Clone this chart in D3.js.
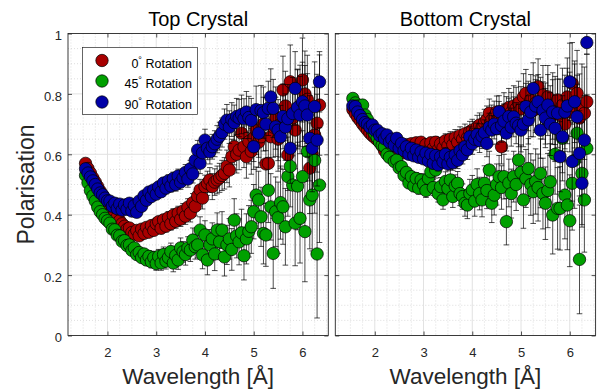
<!DOCTYPE html>
<html>
<head>
<meta charset="utf-8">
<script src="https://cdn.jsdelivr.net/npm/d3@7"></script>
<style>
  body { margin: 0; background: #fff; }
  svg { display: block; }
  text { font-family: "Liberation Sans", Arial, Helvetica, sans-serif; }
</style>
</head>
<body>
<svg id="chart" width="597" height="391"></svg>
<script>
// Wavelength bins [Å], shared by every series
const wavelength = [
  1.55,1.60,1.65,1.70,1.75,1.80,1.85,1.90,1.95,2.00,
  2.05,2.10,2.15,2.20,2.25,2.30,2.35,2.40,2.45,2.50,
  2.55,2.60,2.65,2.70,2.75,2.80,2.85,2.90,2.95,3.00,
  3.05,3.10,3.15,3.20,3.25,3.30,3.35,3.40,3.45,3.50,
  3.55,3.60,3.65,3.70,3.75,3.80,3.85,3.90,3.95,4.00,
  4.05,4.10,4.15,4.20,4.25,4.30,4.35,4.40,4.45,4.50,
  4.55,4.60,4.65,4.70,4.75,4.80,4.85,4.90,4.95,5.00,
  5.05,5.10,5.15,5.20,5.25,5.30,5.35,5.40,5.45,5.50,
  5.55,5.60,5.65,5.70,5.75,5.80,5.85,5.90,5.95,6.00,
  6.05,6.10,6.15,6.20,6.25,6.30,6.35];

// Top crystal polarisation
const topRot0 = [
  0.570,0.553,0.538,0.522,0.508,0.493,0.478,0.465,0.452,0.440,
  0.428,0.416,0.404,0.392,0.380,0.370,0.362,0.352,0.356,0.341,
  0.335,0.348,0.330,0.352,0.338,0.358,0.342,0.364,0.348,0.370,
  0.377,0.355,0.383,0.362,0.390,0.370,0.398,0.378,0.405,0.385,
  0.412,0.395,0.425,0.405,0.440,0.428,0.462,0.482,0.455,0.493,
  0.504,0.515,0.493,0.508,0.515,0.522,0.530,0.537,0.560,0.548,
  0.592,0.625,0.600,0.614,0.670,0.625,0.592,0.642,0.610,0.655,
  0.680,0.640,0.658,0.700,0.568,0.570,0.658,0.690,0.720,0.650,
  0.700,0.813,0.760,0.598,0.840,0.720,0.680,0.750,0.760,0.846,
  0.800,0.782,0.554,0.603,0.664,0.703,0.763];
const topRot0Err = [
  0.004,0.004,0.004,0.005,0.005,0.005,0.005,0.006,0.006,0.006,
  0.007,0.007,0.008,0.008,0.008,0.009,0.009,0.010,0.010,0.011,
  0.011,0.012,0.012,0.013,0.013,0.014,0.014,0.015,0.016,0.016,
  0.017,0.018,0.018,0.019,0.020,0.021,0.022,0.023,0.023,0.024,
  0.025,0.027,0.028,0.029,0.030,0.032,0.033,0.035,0.036,0.038,
  0.040,0.041,0.043,0.044,0.046,0.048,0.050,0.052,0.054,0.056,
  0.058,0.060,0.062,0.065,0.067,0.069,0.071,0.074,0.076,0.079,
  0.081,0.084,0.086,0.089,0.092,0.095,0.097,0.100,0.103,0.106,
  0.109,0.112,0.115,0.118,0.122,0.125,0.128,0.132,0.135,0.139,
  0.142,0.146,0.150,0.154,0.158,0.162,0.166];

const topRot45 = [
  0.530,0.505,0.480,0.462,0.445,0.425,0.410,0.400,0.388,0.380,
  0.372,0.352,0.350,0.332,0.330,0.312,0.314,0.298,0.300,0.282,
  0.290,0.268,0.275,0.258,0.270,0.250,0.262,0.244,0.258,0.238,
  0.262,0.240,0.268,0.246,0.258,0.278,0.240,0.265,0.250,0.290,
  0.277,0.268,0.290,0.283,0.316,0.294,0.300,0.349,0.267,0.333,
  0.250,0.300,0.320,0.270,0.349,0.310,0.349,0.260,0.300,0.320,
  0.285,0.382,0.330,0.310,0.340,0.264,0.320,0.345,0.360,0.410,
  0.465,0.449,0.393,0.338,0.333,0.481,0.426,0.272,0.410,0.390,
  0.440,0.426,0.360,0.526,0.560,0.498,0.372,0.495,0.388,0.526,
  0.344,0.609,0.449,0.465,0.580,0.270,0.498];
const topRot45Err = [
  0.004,0.004,0.005,0.005,0.005,0.006,0.006,0.006,0.007,0.007,
  0.008,0.008,0.009,0.009,0.010,0.010,0.011,0.012,0.012,0.013,
  0.014,0.014,0.015,0.016,0.017,0.018,0.019,0.020,0.021,0.022,
  0.023,0.024,0.025,0.026,0.027,0.028,0.029,0.030,0.031,0.033,
  0.034,0.035,0.037,0.038,0.040,0.041,0.043,0.044,0.046,0.047,
  0.049,0.051,0.053,0.055,0.057,0.059,0.061,0.063,0.065,0.067,
  0.069,0.071,0.073,0.076,0.078,0.080,0.083,0.085,0.088,0.090,
  0.093,0.095,0.098,0.101,0.104,0.107,0.110,0.116,0.115,0.118,
  0.121,0.124,0.127,0.131,0.134,0.137,0.141,0.145,0.148,0.152,
  0.166,0.158,0.162,0.185,0.175,0.212,0.190];

const topRot90 = [
  0.552,0.538,0.525,0.512,0.500,0.485,0.472,0.466,0.455,0.446,
  0.445,0.428,0.438,0.420,0.435,0.415,0.432,0.418,0.438,0.412,
  0.430,0.408,0.445,0.428,0.462,0.448,0.475,0.460,0.482,0.468,
  0.492,0.476,0.505,0.488,0.512,0.495,0.520,0.500,0.528,0.508,
  0.522,0.540,0.518,0.552,0.535,0.580,0.614,0.570,0.605,0.647,
  0.620,0.608,0.625,0.635,0.650,0.660,0.672,0.700,0.713,0.690,
  0.715,0.705,0.725,0.720,0.732,0.718,0.740,0.722,0.712,0.625,
  0.748,0.670,0.745,0.738,0.700,0.752,0.790,0.752,0.691,0.680,
  0.658,0.725,0.690,0.718,0.620,0.735,0.818,0.755,0.730,0.774,
  0.760,0.730,0.653,0.620,0.758,0.647,0.840];
const topRot90Err = [
  0.004,0.004,0.004,0.004,0.005,0.005,0.005,0.005,0.006,0.006,
  0.006,0.007,0.007,0.008,0.008,0.008,0.009,0.009,0.010,0.010,
  0.011,0.011,0.012,0.012,0.013,0.013,0.014,0.015,0.015,0.016,
  0.017,0.017,0.018,0.019,0.020,0.020,0.021,0.022,0.023,0.024,
  0.025,0.026,0.027,0.028,0.030,0.031,0.032,0.034,0.035,0.036,
  0.038,0.040,0.041,0.043,0.045,0.046,0.048,0.050,0.052,0.054,
  0.056,0.058,0.060,0.062,0.064,0.066,0.068,0.070,0.073,0.075,
  0.078,0.080,0.083,0.085,0.088,0.090,0.093,0.096,0.098,0.101,
  0.104,0.107,0.110,0.113,0.116,0.119,0.122,0.125,0.128,0.131,
  0.134,0.137,0.141,0.144,0.148,0.152,0.100];

// Bottom crystal polarisation
const bottomRot0 = [
  0.748,0.735,0.722,0.712,0.700,0.690,0.680,0.670,0.662,0.655,
  0.648,0.640,0.628,0.612,0.618,0.602,0.615,0.600,0.622,0.608,
  0.625,0.605,0.632,0.612,0.635,0.615,0.638,0.618,0.640,0.615,
  0.632,0.612,0.638,0.620,0.640,0.615,0.635,0.622,0.645,0.628,
  0.650,0.632,0.655,0.640,0.662,0.650,0.668,0.655,0.675,0.680,
  0.672,0.690,0.697,0.688,0.705,0.715,0.736,0.714,0.725,0.740,
  0.720,0.625,0.745,0.730,0.755,0.740,0.760,0.752,0.770,0.750,
  0.790,0.802,0.760,0.780,0.745,0.770,0.824,0.760,0.796,0.735,
  0.790,0.720,0.760,0.745,0.780,0.730,0.763,0.700,0.790,0.740,
  0.835,0.760,0.802,0.720,0.750,0.736,0.774];
const bottomRot0Err = [
  0.004,0.004,0.004,0.005,0.005,0.005,0.005,0.006,0.006,0.006,
  0.007,0.007,0.007,0.008,0.008,0.008,0.009,0.009,0.010,0.010,
  0.011,0.011,0.012,0.012,0.013,0.013,0.014,0.014,0.015,0.016,
  0.016,0.017,0.018,0.019,0.019,0.020,0.021,0.022,0.023,0.024,
  0.025,0.026,0.027,0.028,0.029,0.030,0.032,0.033,0.034,0.036,
  0.037,0.039,0.040,0.042,0.044,0.045,0.047,0.049,0.051,0.053,
  0.055,0.057,0.059,0.061,0.063,0.065,0.067,0.070,0.072,0.074,
  0.077,0.079,0.082,0.084,0.087,0.090,0.092,0.095,0.098,0.101,
  0.104,0.107,0.110,0.113,0.116,0.119,0.122,0.125,0.129,0.132,
  0.135,0.139,0.142,0.146,0.149,0.153,0.157];

const bottomRot45 = [
  0.785,0.770,0.760,0.758,0.763,0.730,0.715,0.695,0.680,0.668,
  0.655,0.640,0.630,0.625,0.600,0.590,0.631,0.576,0.581,0.555,
  0.559,0.530,0.540,0.505,0.526,0.495,0.520,0.488,0.515,0.500,
  0.480,0.520,0.542,0.490,0.548,0.470,0.493,0.449,0.510,0.487,
  0.515,0.460,0.495,0.504,0.470,0.460,0.438,0.432,0.470,0.482,
  0.445,0.500,0.470,0.449,0.504,0.480,0.548,0.438,0.465,0.500,
  0.526,0.490,0.526,0.377,0.505,0.470,0.526,0.500,0.581,0.540,
  0.449,0.520,0.553,0.500,0.476,0.510,0.490,0.537,0.470,0.438,
  0.480,0.509,0.399,0.600,0.421,0.421,0.653,0.465,0.432,0.380,
  0.504,0.580,0.670,0.252,0.537,0.449,0.620];
const bottomRot45Err = [
  0.004,0.004,0.005,0.005,0.005,0.006,0.006,0.006,0.007,0.007,
  0.008,0.008,0.009,0.009,0.010,0.011,0.011,0.012,0.013,0.013,
  0.014,0.015,0.016,0.017,0.017,0.018,0.019,0.020,0.021,0.022,
  0.023,0.024,0.025,0.026,0.027,0.028,0.030,0.031,0.032,0.033,
  0.035,0.036,0.037,0.039,0.040,0.042,0.043,0.045,0.047,0.048,
  0.050,0.052,0.054,0.056,0.058,0.060,0.062,0.064,0.066,0.068,
  0.070,0.072,0.074,0.077,0.079,0.081,0.084,0.086,0.089,0.091,
  0.094,0.096,0.099,0.102,0.105,0.108,0.111,0.114,0.117,0.120,
  0.123,0.126,0.129,0.132,0.135,0.138,0.141,0.145,0.148,0.152,
  0.155,0.159,0.162,0.180,0.170,0.173,0.177];

const bottomRot90 = [
  0.760,0.758,0.740,0.728,0.715,0.705,0.700,0.690,0.697,0.680,
  0.680,0.662,0.668,0.652,0.664,0.640,0.650,0.630,0.653,0.620,
  0.636,0.612,0.625,0.600,0.620,0.595,0.614,0.590,0.608,0.585,
  0.604,0.578,0.600,0.570,0.596,0.565,0.592,0.575,0.600,0.568,
  0.590,0.572,0.598,0.580,0.612,0.598,0.625,0.615,0.658,0.635,
  0.650,0.665,0.645,0.660,0.672,0.636,0.690,0.680,0.700,0.685,
  0.741,0.695,0.710,0.670,0.725,0.690,0.724,0.703,0.695,0.680,
  0.700,0.758,0.714,0.740,0.818,0.760,0.774,0.680,0.745,0.720,
  0.763,0.700,0.740,0.686,0.736,0.592,0.658,0.740,0.760,0.840,
  0.576,0.774,0.724,0.603,0.504,0.647,0.970];
const bottomRot90Err = [
  0.004,0.004,0.004,0.004,0.005,0.005,0.005,0.005,0.006,0.006,
  0.006,0.007,0.007,0.007,0.008,0.008,0.009,0.009,0.009,0.010,
  0.010,0.011,0.011,0.012,0.012,0.013,0.014,0.014,0.015,0.015,
  0.016,0.017,0.017,0.018,0.019,0.020,0.021,0.021,0.022,0.023,
  0.024,0.025,0.026,0.027,0.028,0.030,0.031,0.032,0.033,0.035,
  0.036,0.038,0.039,0.041,0.042,0.044,0.046,0.048,0.049,0.051,
  0.053,0.055,0.057,0.059,0.061,0.063,0.066,0.068,0.070,0.072,
  0.075,0.077,0.080,0.082,0.085,0.087,0.090,0.093,0.095,0.098,
  0.101,0.104,0.107,0.110,0.113,0.116,0.119,0.122,0.125,0.128,
  0.131,0.135,0.138,0.141,0.145,0.148,0.038];

// Axis ticks, labels and legend text
const xTicks = [2, 3, 4, 5, 6];
const yTicks = [0, 0.2, 0.4, 0.6, 0.8, 1];
const yTickLabels = ["0", "0.2", "0.4", "0.6", "0.8", "1"];
const panelTitles = ["Top Crystal", "Bottom Crystal"];
const rotationAngles = ["0", "45", "90"];
const xLabel = "Wavelength [Å]";
const yLabel = "Polarisation";

const seriesColors = ["#a80000", "#00a000", "#0000a8"];

const panels = [
  { title: panelTitles[0], left: 68, showY: true, legend: true,
    series: [[topRot0, topRot0Err], [topRot45, topRot45Err], [topRot90, topRot90Err]] },
  { title: panelTitles[1], left: 335.3, showY: false, legend: false,
    series: [[bottomRot0, bottomRot0Err], [bottomRot45, bottomRot45Err], [bottomRot90, bottomRot90Err]] }
];

const W = 260.3, TOP = 33.5, BOTTOM = 335.5;
const svg = d3.select("#chart");
const axisColor = "#262626";

const y = d3.scaleLinear().domain([0, 1]).range([BOTTOM, TOP]);

panels.forEach((p, pi) => {
  const x = d3.scaleLinear().domain([1.19, 6.53]).range([p.left, p.left + W]);
  const g = svg.append("g");

  g.append("rect").attr("x", p.left).attr("y", TOP).attr("width", W).attr("height", BOTTOM - TOP)
    .attr("fill", "#fff");

  // minor grid (dotted)
  const xMinor = d3.range(1.25, 6.53, 0.25).filter(v => Math.abs(v - Math.round(v)) > 1e-6);
  const yMinor = d3.range(0.05, 1, 0.05).filter(v => Math.abs(v * 5 - Math.round(v * 5)) > 1e-6);
  g.selectAll(".xminor").data(xMinor).join("line")
    .attr("x1", d => x(d)).attr("x2", d => x(d)).attr("y1", TOP).attr("y2", BOTTOM)
    .attr("stroke", "#c8c8c8").attr("stroke-width", 0.6).attr("stroke-dasharray", "1,2");
  g.selectAll(".yminor").data(yMinor).join("line")
    .attr("x1", p.left).attr("x2", p.left + W).attr("y1", d => y(d)).attr("y2", d => y(d))
    .attr("stroke", "#c8c8c8").attr("stroke-width", 0.6).attr("stroke-dasharray", "1,2");

  // major grid
  g.selectAll(".xmajor").data(xTicks).join("line")
    .attr("x1", d => x(d)).attr("x2", d => x(d)).attr("y1", TOP).attr("y2", BOTTOM)
    .attr("stroke", "#e2e2e2").attr("stroke-width", 1);
  g.selectAll(".ymajor").data(yTicks.slice(1, -1)).join("line")
    .attr("x1", p.left).attr("x2", p.left + W).attr("y1", d => y(d)).attr("y2", d => y(d))
    .attr("stroke", "#e2e2e2").attr("stroke-width", 1);

  const clipId = "clip" + pi;
  svg.append("clipPath").attr("id", clipId).append("rect")
    .attr("x", p.left).attr("y", TOP).attr("width", W).attr("height", BOTTOM - TOP);

  // series: error bars then markers, in legend order
  p.series.forEach(([vals, errs], si) => {
    const pts = wavelength.map((w, i) => ({ w, v: vals[i], e: errs[i] }));
    const eb = g.append("g").attr("clip-path", `url(#${clipId})`)
      .attr("stroke", "#000").attr("stroke-width", 0.7).attr("fill", "none");
    const cap = 2.8;
    eb.selectAll("path").data(pts).join("path")
      .attr("d", d => {
        const cx = x(d.w), y0 = y(d.v - d.e), y1 = y(d.v + d.e);
        return `M${cx},${y0}V${y1}M${cx - cap},${y0}H${cx + cap}M${cx - cap},${y1}H${cx + cap}`;
      });
    g.append("g").selectAll("circle").data(pts).join("circle")
      .attr("cx", d => x(d.w)).attr("cy", d => y(d.v)).attr("r", 6.2)
      .attr("fill", seriesColors[si]).attr("stroke", "#000").attr("stroke-width", 0.7);
  });

  // axes with inward ticks on all four sides
  const styleAxis = sel => {
    sel.select(".domain").remove();
    sel.selectAll(".tick line").attr("stroke", axisColor).attr("stroke-width", 0.8);
    sel.selectAll("text").attr("fill", axisColor).style("font-size", "13px")
      .style("font-family", '"Liberation Sans", Arial, sans-serif');
  };
  g.append("g").attr("transform", `translate(0,${BOTTOM})`)
    .call(d3.axisBottom(x).tickValues(xTicks).tickSize(-4).tickPadding(12).tickFormat(d3.format("d")))
    .call(styleAxis);
  g.append("g").attr("transform", `translate(0,${TOP})`)
    .call(d3.axisTop(x).tickValues(xTicks).tickSize(-4).tickFormat(""))
    .call(styleAxis);
  const left = g.append("g").attr("transform", `translate(${p.left},0)`)
    .call(d3.axisLeft(y).tickValues(yTicks).tickSize(-4).tickPadding(6)
      .tickFormat((d, i) => p.showY ? yTickLabels[i] : ""))
    .call(styleAxis);
  left.selectAll("text").attr("dy", "0.48em");
  g.append("g").attr("transform", `translate(${p.left + W},0)`)
    .call(d3.axisRight(y).tickValues(yTicks).tickSize(-4).tickFormat(""))
    .call(styleAxis);

  g.append("rect").attr("x", p.left).attr("y", TOP).attr("width", W).attr("height", BOTTOM - TOP)
    .attr("fill", "none").attr("stroke", axisColor).attr("stroke-width", 0.9);

  const cx = p.left + W / 2;
  g.append("text").attr("x", cx).attr("y", 26).attr("text-anchor", "middle")
    .style("font-size", "20px").attr("fill", "#000").text(p.title);
  g.append("text").attr("x", cx).attr("y", 384).attr("text-anchor", "middle")
    .style("font-size", "22.5px").attr("fill", axisColor).text(xLabel);

  if (p.showY) {
    g.append("text").attr("transform", `translate(34,${(TOP + BOTTOM) / 2}) rotate(-90)`)
      .attr("text-anchor", "middle").style("font-size", "23px").attr("fill", axisColor).text(yLabel);
  }

  // legend
  if (p.legend) {
    const lg = g.append("g");
    lg.append("rect").attr("x", 82.5).attr("y", 47.5).attr("width", 115).attr("height", 67)
      .attr("fill", "#fff").attr("stroke", axisColor).attr("stroke-width", 0.7);
    const rowsY = [60.5, 81, 102];
    rotationAngles.forEach((a, i) => {
      lg.append("circle").attr("cx", 102).attr("cy", rowsY[i]).attr("r", 6.2)
        .attr("fill", seriesColors[i]).attr("stroke", "#000").attr("stroke-width", 0.7);
      const t = lg.append("text").attr("x", 192).attr("y", rowsY[i] + 7.3)
        .attr("text-anchor", "end").style("font-size", "12.5px").attr("fill", "#000");
      t.append("tspan").text(a);
      t.append("tspan").attr("dy", -5).style("font-size", "9px").text("°");
      t.append("tspan").attr("dy", 5).text(" Rotation");
    });
  }
});
</script>
</body>
</html>
